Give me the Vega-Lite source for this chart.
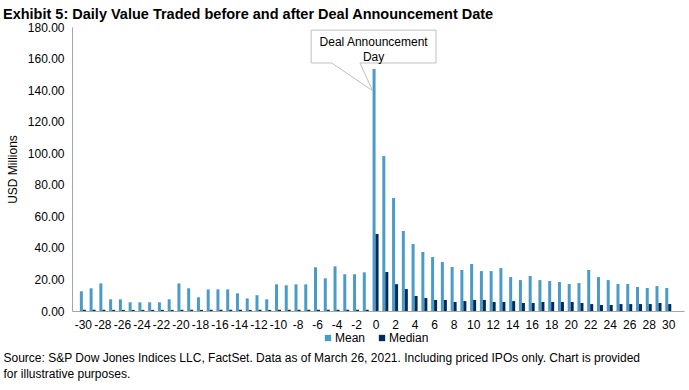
{
  "$schema": "https://vega.github.io/schema/vega-lite/v6.json",
  "width": 612,
  "height": 284,
  "autosize": {"type": "none"},
  "padding": {"left": 72, "top": 27, "right": 5, "bottom": 79},
  "background": "white",
  "title": {
    "text": "Exhibit 5: Daily Value Traded before and after Deal Announcement Date",
    "anchor": "start",
    "frame": "group",
    "dx": -69,
    "dy": 8,
    "offset": 7,
    "font": "Liberation Sans",
    "fontSize": 14.5,
    "fontWeight": "bold",
    "color": "#000000"
  },
  "config": {
    "view": {"stroke": null},
    "font": "Liberation Sans"
  },
  "datasets": {
    "bars": [
      {"day": -30, "mean": 12.5, "median": 0.8},
      {"day": -29, "mean": 14.4, "median": 0.8},
      {"day": -28, "mean": 17.5, "median": 0.8},
      {"day": -27, "mean": 7.4, "median": 0.7},
      {"day": -26, "mean": 7.4, "median": 0.7},
      {"day": -25, "mean": 5.5, "median": 0.7},
      {"day": -24, "mean": 5.5, "median": 0.7},
      {"day": -23, "mean": 5.5, "median": 0.7},
      {"day": -22, "mean": 5.5, "median": 0.7},
      {"day": -21, "mean": 7.4, "median": 0.7},
      {"day": -20, "mean": 17.5, "median": 0.8},
      {"day": -19, "mean": 14.4, "median": 0.8},
      {"day": -18, "mean": 8.7, "median": 0.7},
      {"day": -17, "mean": 13.7, "median": 0.8},
      {"day": -16, "mean": 13.7, "median": 0.8},
      {"day": -15, "mean": 13.7, "median": 0.8},
      {"day": -14, "mean": 11.2, "median": 0.8},
      {"day": -13, "mean": 8.0, "median": 0.7},
      {"day": -12, "mean": 10.0, "median": 0.8},
      {"day": -11, "mean": 7.4, "median": 0.7},
      {"day": -10, "mean": 16.9, "median": 0.8},
      {"day": -9, "mean": 16.3, "median": 0.8},
      {"day": -8, "mean": 16.9, "median": 0.8},
      {"day": -7, "mean": 16.9, "median": 0.8},
      {"day": -6, "mean": 27.7, "median": 0.8},
      {"day": -5, "mean": 20.7, "median": 0.8},
      {"day": -4, "mean": 28.3, "median": 0.8},
      {"day": -3, "mean": 23.3, "median": 0.8},
      {"day": -2, "mean": 23.3, "median": 0.8},
      {"day": -1, "mean": 24.5, "median": 0.8},
      {"day": 0, "mean": 153.4, "median": 48.8},
      {"day": 1, "mean": 98.2, "median": 24.7},
      {"day": 2, "mean": 71.6, "median": 17.0},
      {"day": 3, "mean": 50.7, "median": 13.9},
      {"day": 4, "mean": 42.5, "median": 9.5},
      {"day": 5, "mean": 37.4, "median": 8.2},
      {"day": 6, "mean": 34.2, "median": 7.0},
      {"day": 7, "mean": 31.0, "median": 7.0},
      {"day": 8, "mean": 27.9, "median": 5.7},
      {"day": 9, "mean": 26.0, "median": 6.3},
      {"day": 10, "mean": 29.8, "median": 7.0},
      {"day": 11, "mean": 25.3, "median": 7.0},
      {"day": 12, "mean": 25.3, "median": 5.7},
      {"day": 13, "mean": 27.2, "median": 5.7},
      {"day": 14, "mean": 21.5, "median": 6.3},
      {"day": 15, "mean": 19.6, "median": 5.1},
      {"day": 16, "mean": 22.2, "median": 5.1},
      {"day": 17, "mean": 19.6, "median": 5.7},
      {"day": 18, "mean": 19.0, "median": 5.7},
      {"day": 19, "mean": 18.4, "median": 5.7},
      {"day": 20, "mean": 17.1, "median": 5.7},
      {"day": 21, "mean": 17.7, "median": 5.1},
      {"day": 22, "mean": 26.0, "median": 4.4},
      {"day": 23, "mean": 21.5, "median": 3.8},
      {"day": 24, "mean": 19.6, "median": 3.8},
      {"day": 25, "mean": 17.1, "median": 4.4},
      {"day": 26, "mean": 17.1, "median": 4.4},
      {"day": 27, "mean": 15.2, "median": 4.4},
      {"day": 28, "mean": 14.6, "median": 4.4},
      {"day": 29, "mean": 15.8, "median": 5.1},
      {"day": 30, "mean": 14.6, "median": 4.4}
    ],
    "callout": [
      {"ord": 1, "cx": -6.6, "cy": 178.0},
      {"ord": 2, "cx": 6.2, "cy": 178.0},
      {"ord": 3, "cx": 6.2, "cy": 157.2},
      {"ord": 4, "cx": -1.6, "cy": 157.2},
      {"ord": 5, "cx": -0.3, "cy": 139.6},
      {"ord": 6, "cx": -4.5, "cy": 157.2},
      {"ord": 7, "cx": -6.6, "cy": 157.2},
      {"ord": 8, "cx": -6.6, "cy": 178.0}
    ],
    "labels": [
      {"lx": -0.2, "ly": 170.5, "txt": "Deal Announcement"},
      {"lx": -0.2, "ly": 161.3, "txt": "Day"}
    ]
  },
  "layer": [
    {
      "data": {"name": "bars"},
      "mark": {"type": "bar", "orient": "vertical", "width": 3, "xOffset": -1.5},
      "encoding": {
        "x": {
          "field": "day",
          "type": "quantitative",
          "scale": {"domain": [-30.6, 31.1], "nice": false, "zero": false},
          "axis": {
            "values": [-30, -28, -26, -24, -22, -20, -18, -16, -14, -12, -10, -8, -6, -4, -2, 0, 2, 4, 6, 8, 10, 12, 14, 16, 18, 20, 22, 24, 26, 28, 30],
            "tickCount": 100,
            "labelExpr": "'' + datum.value",
            "grid": false,
            "ticks": false,
            "domainColor": "#a6a6a6",
            "labelFontSize": 12,
            "labelColor": "#000000",
            "labelPadding": 8,
            "labelOverlap": false,
            "labelFlush": false,
            "title": ["Source: S&P Dow Jones Indices LLC, FactSet. Data as of March 26, 2021. Including priced IPOs only. Chart is provided", "for illustrative purposes."],
            "titleFontSize": 12,
            "titleFontWeight": "normal",
            "titleColor": "#000000",
            "titleAlign": "left",
            "titleAnchor": "start",
            "titleBaseline": "top",
            "titleX": -69,
            "titleY": 41,
            "titleLineHeight": 16
          }
        },
        "y": {
          "field": "mean",
          "type": "quantitative",
          "scale": {"domain": [0, 180], "nice": false},
          "axis": {
            "values": [0, 20, 40, 60, 80, 100, 120, 140, 160, 180],
            "tickCount": 50,
            "format": ".2f",
            "grid": false,
            "ticks": false,
            "domainColor": "#a6a6a6",
            "labelFontSize": 12,
            "labelColor": "#000000",
            "labelPadding": 8,
            "labelOverlap": false,
            "title": "USD Millions",
            "titleFontSize": 12,
            "titleFontWeight": "normal",
            "titleColor": "#000000",
            "titlePadding": 8
          }
        },
        "color": {
          "datum": "Mean",
          "type": "nominal",
          "scale": {"domain": ["Mean", "Median"], "range": ["#4a9bc7", "#002b5c"]},
          "legend": {
            "title": null,
            "orient": "none",
            "direction": "horizontal",
            "legendX": 250,
            "legendY": 305,
            "symbolType": "square",
            "symbolSize": 40,
            "symbolStrokeWidth": 0,
            "labelFontSize": 12,
            "labelColor": "#000000",
            "labelOffset": 1,
            "columnPadding": 10
          }
        }
      }
    },
    {
      "data": {"name": "bars"},
      "mark": {"type": "bar", "orient": "vertical", "width": 3, "xOffset": 1.5},
      "encoding": {
        "x": {"field": "day", "type": "quantitative"},
        "y": {"field": "median", "type": "quantitative"},
        "color": {"datum": "Median", "type": "nominal"}
      }
    },
    {
      "data": {"name": "callout"},
      "mark": {"type": "line", "color": "#bfbfbf", "strokeWidth": 1, "interpolate": "linear"},
      "encoding": {
        "x": {"field": "cx", "type": "quantitative"},
        "y": {"field": "cy", "type": "quantitative"},
        "order": {"field": "ord", "type": "quantitative"}
      }
    },
    {
      "data": {"name": "labels"},
      "mark": {"type": "text", "fontSize": 12, "color": "#000000", "align": "center", "baseline": "middle"},
      "encoding": {
        "x": {"field": "lx", "type": "quantitative"},
        "y": {"field": "ly", "type": "quantitative"},
        "text": {"field": "txt"}
      }
    }
  ]
}
